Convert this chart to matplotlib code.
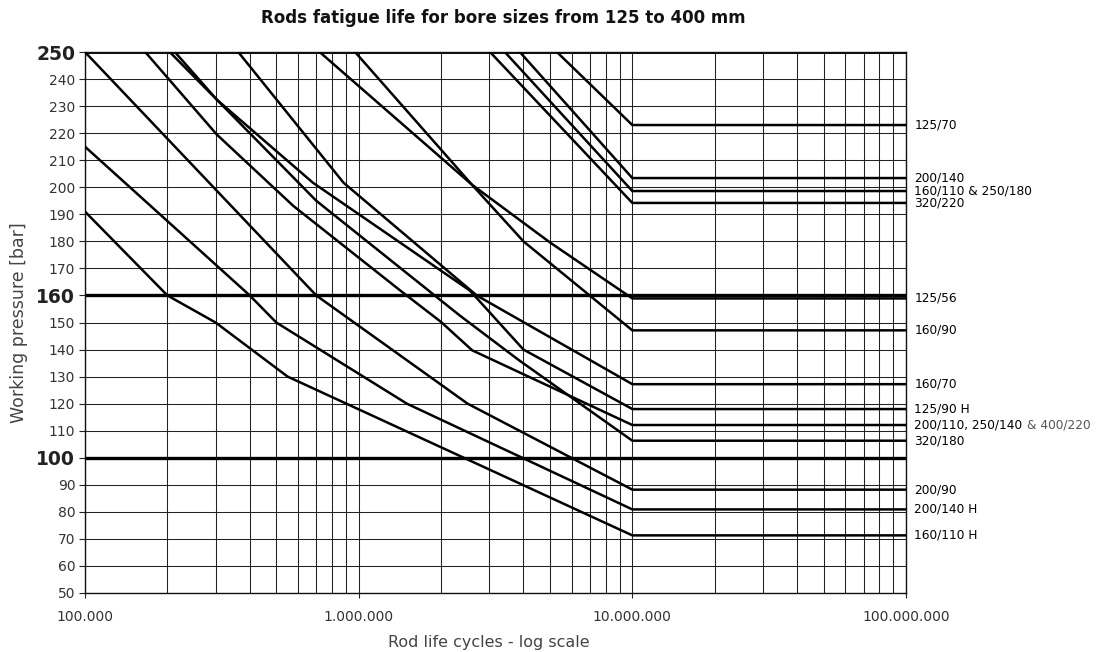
import matplotlib
matplotlib.use('Agg')
import matplotlib.pyplot as plt

plt.rcParams['font.family'] = ['DejaVu Sans']

title = "Rods fatigue life for bore sizes from 125 to 400 mm"
xlabel = "Rod life cycles - log scale"
ylabel = "Working pressure [bar]"

x_ticks = [1e5, 1e6, 1e7, 1e8]
x_tick_labels = ["100.000", "1.000.000", "10.000.000", "100.000.000"]
y_ticks = list(range(50, 251, 10))
y_bold = [100, 160, 250]

labels = ["125/70", "200/140", "160/110 & 250/180", "320/220", "125/56", "160/90",
          "160/70", "125/90 H", "200/110, 250/140", "320/180", "200/90",
          "200/140 H", "160/110 H"]
label_extra = {"200/110, 250/140": "& 400/220"}

cyc_125_70 = [5.3e6, 1e7, 1e8]
p_125_70 = [250, 223, 223]
cyc_200_140 = [3.88e6, 1e7, 1e8]
p_200_140 = [250, 203.4, 203.4]
cyc_160_110 = [3.42e6, 1e7, 1e8]
p_160_110 = [250, 198.6, 198.6]
cyc_320_220 = [3.02e6, 1e7, 1e8]
p_320_220 = [250, 194.2, 194.2]
cyc_125_56 = [9.7e5, 2.59e6, 5e6, 1e7, 1e8]
p_125_56 = [250, 201, 179.6, 158.9, 158.9]
cyc_160_90 = [7.2e5, 2.59e6, 4e6, 1e7, 1e8]
p_160_90 = [250, 201, 180, 147.1, 147.1]
cyc_160_70 = [3.63e5, 8.8e5, 2.7e6, 1e7, 1e8]
p_160_70 = [250, 201.7, 160, 127.2, 127.2]
cyc_125_90h = [2.04e5, 3.03e5, 6.8e5, 2.55e6, 4e6, 1e7, 1e8]
p_125_90h = [250, 232.4, 201.7, 161.8, 140, 118, 118]
cyc_200_110 = [1.66e5, 3.03e5, 5.77e5, 1.42e6, 2e6, 2.6e6, 1e7, 1e8]
p_200_110 = [250, 219.5, 193.1, 161.8, 150.2, 139.7, 112.1, 112.1]
cyc_320_180 = [2.13e5, 3.03e5, 7e5, 2.34e6, 3.86e6, 1e7, 1e8]
p_320_180 = [250, 232.4, 195, 152.6, 136, 106.3, 106.3]
cyc_200_90 = [1e5, 7e5, 2.5e6, 1e7, 1e8]
p_200_90 = [250, 160, 120, 88.2, 88.2]
cyc_200_140h = [1e5, 4e5, 5e5, 1.5e6, 1e7, 1e8]
p_200_140h = [215, 160, 150, 120, 80.9, 80.9]
cyc_160_110h = [1e5, 2e5, 3e5, 5.5e5, 1e7, 1e8]
p_160_110h = [191, 160, 150, 130, 71.3, 71.3]

curves = [
    (cyc_125_70, p_125_70), (cyc_200_140, p_200_140), (cyc_160_110, p_160_110),
    (cyc_320_220, p_320_220), (cyc_125_56, p_125_56), (cyc_160_90, p_160_90),
    (cyc_160_70, p_160_70), (cyc_125_90h, p_125_90h), (cyc_200_110, p_200_110),
    (cyc_320_180, p_320_180), (cyc_200_90, p_200_90), (cyc_200_140h, p_200_140h),
    (cyc_160_110h, p_160_110h),
]

fig = plt.figure(figsize=(10.96, 6.52), dpi=100)
ax = fig.add_axes([85 / 1096, 1 - 593 / 652, (906 - 85) / 1096, (593 - 52) / 652])
ax.set_xscale('log')
ax.set_xlim(1e5, 1e8)
ax.set_ylim(50, 250)

minor = [m * 10 ** e for e in range(5, 8) for m in range(2, 10)]
ax.set_xticks(x_ticks)
ax.set_xticklabels(x_tick_labels)
ax.set_xticks(minor, minor=True)
ax.set_xticklabels([], minor=True)
ax.tick_params(axis='x', which='minor', length=0)
ax.tick_params(axis='x', which='major', length=3.5, width=0.8, color='#222',
               labelsize=10, labelcolor='#333', pad=9)
ax.set_yticks(y_ticks)
ax.set_yticklabels([str(v) for v in y_ticks])
ax.tick_params(axis='y', length=4, width=0.8, color='#222', labelsize=10,
               labelcolor='#333', pad=3)
for lbl, v in zip(ax.get_yticklabels(), y_ticks):
    if v in y_bold:
        lbl.set_fontweight('bold')
        lbl.set_fontsize(13.5)
        lbl.set_color('#222')

ax.grid(True, which='both', axis='x', color='#222', linewidth=0.75)
ax.grid(True, which='major', axis='y', color='#222', linewidth=0.75)
ax.set_axisbelow(True)
for v in y_bold:
    ax.axhline(v, color='black', linewidth=2.8 if v == 250 else 2.4, zorder=2)

for sp in ax.spines.values():
    sp.set_color('#111')
    sp.set_linewidth(1.0)

for (cx, cp) in curves:
    ax.plot(cx, cp, color='black', linewidth=1.8, solid_joinstyle='miter', zorder=3)

for lbl, (cx, cp) in zip(labels, curves):
    t = ax.annotate(lbl, xy=(1, cp[-1]), xycoords=('axes fraction', 'data'),
                    xytext=(6, 0), textcoords='offset points', va='center',
                    ha='left', fontsize=8.7, color='black', annotation_clip=False)
    if lbl in label_extra:
        ax.annotate(label_extra[lbl], xy=(1, 0), xycoords=t, xytext=(3, 0),
                    textcoords='offset points', va='bottom', ha='left',
                    fontsize=8.7, color='#555', annotation_clip=False)

fig.text(489 / 1096, 1 - 642 / 652, xlabel, ha='center', va='center',
         fontsize=11.5, color='#444')
ax.set_ylabel(ylabel, fontsize=12.5, color='#444', labelpad=6)
fig.text(503.5 / 1096, 1 - 18 / 652, title, ha='center', va='center', fontsize=12,
         fontweight='bold', color='#111')

fig.savefig('out.png', dpi=100)
